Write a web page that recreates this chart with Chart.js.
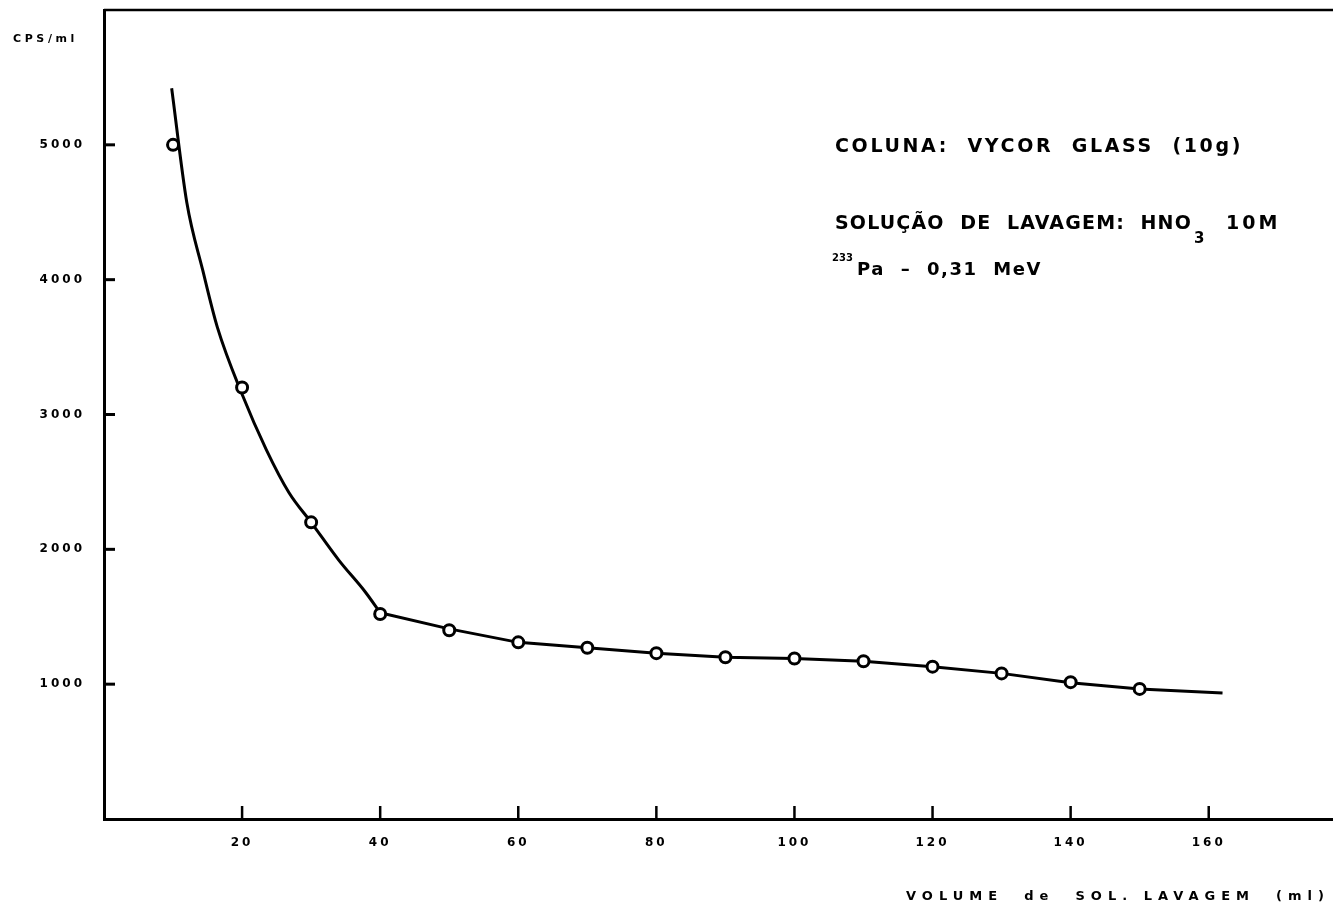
<!DOCTYPE html>
<html>
<head>
<meta charset="utf-8">
<script src="https://cdn.jsdelivr.net/npm/chart.js@4"></script>
<style>
  html, body { margin: 0; padding: 0; background: #fff; }
  #wrap { width: 1333px; height: 906px; }
</style>
</head>
<body>
<div id="wrap"><canvas id="chart" width="1333" height="906"></canvas></div>
<script>
// --- dados ---
const volumes = [10, 20, 30, 40, 50, 60, 70, 80, 90, 100, 110, 120, 130, 140, 150];
const cps = [5000, 3200, 2200, 1520, 1400, 1310, 1270, 1230, 1200, 1190, 1170, 1130, 1080, 1015, 965];

// curva ajustada (traçada à mão no original): parte íngreme (suave) e cauda (retas)
const curveSteepX = [9.8, 12, 14.3, 16.4, 20, 23.5, 26.8, 30, 34, 37.9, 40];
const curveSteepY = [5420, 4570, 4070, 3650, 3150, 2740, 2420, 2200, 1920, 1680, 1530];
const curveTailX = [40, 50, 60, 70, 80, 90, 100, 110, 120, 130, 140, 150, 162];
const curveTailY = [1530, 1410, 1310, 1270, 1230, 1200, 1190, 1170, 1130, 1080, 1010, 965, 935];

const xTicks = [20, 40, 60, 80, 100, 120, 140, 160];
const yTicks = [1000, 2000, 3000, 4000, 5000];

const FONT = '"DejaVu Sans", sans-serif';

// escreve o texto esticando o espaçamento até a largura pedida
function fitText(ctx, text, x, y, width) {
    ctx.letterSpacing = '0px';
    const w = ctx.measureText(text).width;
    const n = [...text].length;
    ctx.letterSpacing = ((width - w) / n) + 'px';
    ctx.fillText(text, x, y);
}

const decor = {
    id: 'decor',
    beforeDraw(chart) {
        chart.ctx.letterSpacing = '3px';
    },
    afterDraw(chart) {
        const ctx = chart.ctx;
        const area = chart.chartArea;
        const xs = chart.scales.x;
        const ys = chart.scales.y;
        ctx.save();
        ctx.strokeStyle = '#000';
        ctx.lineWidth = 3;
        yTicks.forEach(v => {
            const py = ys.getPixelForValue(v);
            ctx.beginPath();
            ctx.moveTo(area.left, py);
            ctx.lineTo(area.left + 11, py);
            ctx.stroke();
        });
        ctx.lineWidth = 2.5;
        xTicks.forEach(v => {
            const px = xs.getPixelForValue(v);
            ctx.beginPath();
            ctx.moveTo(px, area.bottom);
            ctx.lineTo(px, area.bottom - 13);
            ctx.stroke();
        });
        // borda superior
        ctx.beginPath();
        ctx.moveTo(area.left, area.top);
        ctx.lineTo(area.right, area.top);
        ctx.stroke();

        ctx.fillStyle = '#000';
        ctx.textBaseline = 'alphabetic';
        ctx.textAlign = 'left';

        ctx.font = 'bold 11px ' + FONT;
        fitText(ctx, 'CPS/ml', 13, 42, 65);

        ctx.font = 'bold 19px ' + FONT;
        fitText(ctx, 'COLUNA:  VYCOR  GLASS  (10g)', 835, 152, 408);
        fitText(ctx, 'SOLUÇÃO  DE  LAVAGEM:  HNO', 835, 229, 357);
        ctx.letterSpacing = '3px';
        ctx.fillText('10M', 1226, 229);
        ctx.font = 'bold 15px ' + FONT;
        ctx.letterSpacing = '0px';
        ctx.fillText('3', 1194, 243);

        ctx.font = 'bold 10px ' + FONT;
        ctx.fillText('233', 832, 261);
        ctx.font = 'bold 18px ' + FONT;
        fitText(ctx, 'Pa  –  0,31  MeV', 857, 275, 185);

        ctx.font = 'bold 13px ' + FONT;
        fitText(ctx, 'VOLUME  de  SOL. LAVAGEM  (ml)', 906, 900, 424);
        ctx.restore();
    }
};

const noPad = s => { s.paddingTop = 0; s.paddingBottom = 0; s.paddingLeft = 0; s.paddingRight = 0; };

new Chart(document.getElementById('chart'), {
    type: 'scatter',
    data: {
        datasets: [{
            label: 'pontos',
            data: volumes.map((v, i) => ({ x: v, y: cps[i] })),
            showLine: false,
            pointStyle: 'circle',
            pointRadius: 5.5,
            pointBorderWidth: 3,
            pointBackgroundColor: '#fff',
            pointBorderColor: '#000',
            order: 0
        }, {
            label: 'curva',
            data: curveSteepX.map((v, i) => ({ x: v, y: curveSteepY[i] })),
            showLine: true,
            borderColor: '#000',
            borderWidth: 3,
            pointRadius: 0,
            cubicInterpolationMode: 'monotone',
            order: 1
        }, {
            label: 'cauda',
            data: curveTailX.map((v, i) => ({ x: v, y: curveTailY[i] })),
            showLine: true,
            borderColor: '#000',
            borderWidth: 3,
            pointRadius: 0,
            tension: 0,
            order: 1
        }]
    },
    options: {
        responsive: false,
        animation: false,
        devicePixelRatio: 1,
        layout: { autoPadding: false, padding: { top: 10, right: 0, left: 0, bottom: 0 } },
        plugins: {
            legend: { display: false },
            tooltip: { enabled: false }
        },
        scales: {
            x: {
                type: 'linear',
                min: 0,
                max: 178,
                afterFit: s => { s.height = 87; noPad(s); },
                grid: { display: false, drawTicks: false },
                border: { display: true, color: '#000', width: 3 },
                ticks: {
                    stepSize: 20,
                    includeBounds: false,
                    padding: 17,
                    color: '#000',
                    font: { family: FONT, size: 12, weight: 'bold' },
                    maxRotation: 0,
                    callback: v => (xTicks.includes(v) ? String(v) : '')
                }
            },
            y: {
                min: 0,
                max: 6000,
                afterFit: s => { s.width = 104; noPad(s); },
                grid: { display: false, drawTicks: false },
                border: { display: true, color: '#000', width: 3 },
                ticks: {
                    stepSize: 1000,
                    padding: 19,
                    color: '#000',
                    font: { family: FONT, size: 12, weight: 'bold' },
                    callback: v => (yTicks.includes(v) ? String(v) : '')
                }
            }
        }
    },
    plugins: [decor]
});
</script>
</body>
</html>
